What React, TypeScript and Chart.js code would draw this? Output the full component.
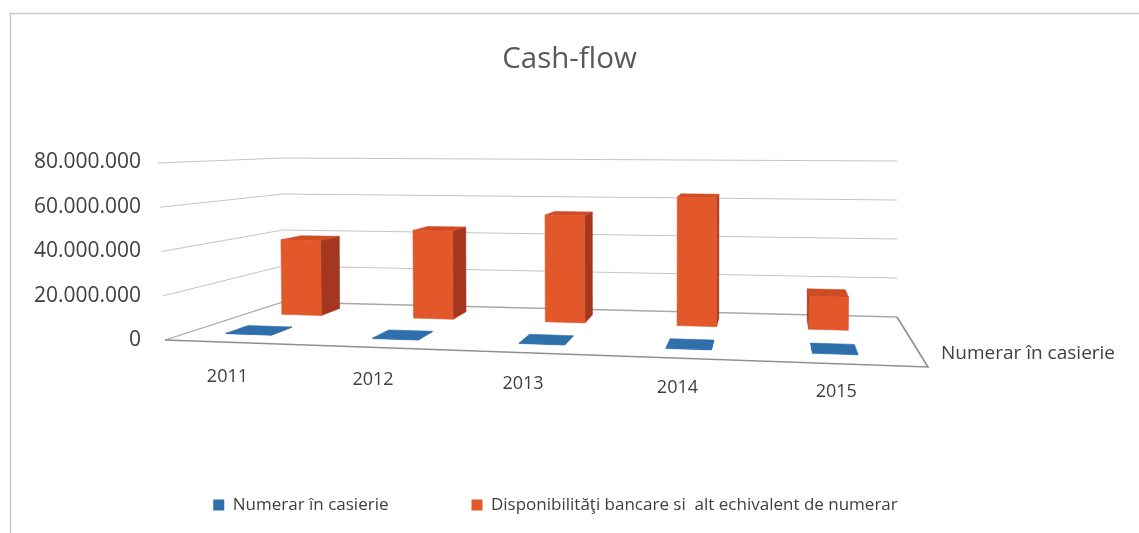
import React, { useEffect, useRef } from 'react';
import { Chart, registerables } from 'chart.js';

Chart.register(...registerables);

// ---------- data ----------
const years = ['2011', '2012', '2013', '2014', '2015'];
const numerarCasierie = [180000, 210000, 240000, 260000, 300000];
const disponibilitati = [38600000, 44600000, 53400000, 63300000, 16000000];
const seriesNames = ['Numerar în casierie', 'Disponibilităţi bancare si  alt echivalent de numerar'];
const yTickValues = [0, 20000000, 40000000, 60000000, 80000000];
const chartTitle = 'Cash-flow';

// ---------- styles / geometry ----------
const FONT = '"Open Sans", "DejaVu Sans", sans-serif';
const TEXT = '#404040';
const GRID = '#c4c4c4';
const FLOOR_EDGE = '#8f8f8f';
const FRONT = { blue: '#2E6FAC', orange: '#E2582A' };
const SIDE = { blue: '#1F4E7C', orange: '#A5361F' };
const TOP = { blue: '#2E6FAC', orange: '#CF4C25' };

// floor corners (front-left, front-right, back-right, back-left) and full-scale heights
const FL = [165, 340], FR = [928, 367], BR = [897, 317], BL = [283, 302];
const HT = { fl: 177, fr: 192, br: 156, bl: 144 };
const DXT = { fl: -7, fr: 5, br: 0, bl: 0 };
const ROWS = [
  { d0: 0.2, d1: 0.4 },   // front row (series 1)
  { d0: 0.7, d1: 0.88 },  // back row (series 2)
];
const U_SHIFT = 0.018;

function proj(u: number, d: number, h: number): [number, number] {
  const a = (1 - u) * (1 - d), b = u * (1 - d), c = u * d, e = (1 - u) * d;
  const x = a * FL[0] + b * FR[0] + c * BR[0] + e * BL[0];
  const y = a * FL[1] + b * FR[1] + c * BR[1] + e * BL[1];
  const hh = a * HT.fl + b * HT.fr + c * HT.br + e * HT.bl;
  const dx = a * DXT.fl + b * DXT.fr + c * DXT.br + e * DXT.bl;
  return [x + dx * h, y - hh * h];
}

function fillQuad(ctx: CanvasRenderingContext2D, pts: [number, number][], color: string) {
  ctx.beginPath();
  ctx.moveTo(pts[0][0], pts[0][1]);
  for (let i = 1; i < pts.length; i++) ctx.lineTo(pts[i][0], pts[i][1]);
  ctx.closePath();
  ctx.fillStyle = color;
  ctx.fill();
  ctx.strokeStyle = color;
  ctx.lineWidth = 0.6;
  ctx.stroke();
}

function fmt(v: number) {
  return String(Math.round(v)).replace(/\B(?=(\d{3})+(?!\d))/g, '.');
}

const perspectivePlugin = {
  id: 'persp3d',
  afterLayout(chart: any) {
    if (chart.titleBlock) {
      chart.titleBlock.left = 0;
      chart.titleBlock.right = chart.width;
    }
  },
  beforeDraw(chart: any) {
    const ctx: CanvasRenderingContext2D = chart.ctx;
    ctx.save();
    ctx.strokeStyle = '#c9c9c9';
    ctx.lineWidth = 1.5;
    ctx.beginPath();
    ctx.moveTo(10.5, chart.height);
    ctx.lineTo(10.5, 13.5);
    ctx.lineTo(chart.width, 13.5);
    ctx.stroke();
    ctx.restore();
  },
  beforeDatasetsDraw(chart: any) {
    const ctx: CanvasRenderingContext2D = chart.ctx;
    const ys = chart.scales.y;
    const xs = chart.scales.x;
    const ca = chart.chartArea;
    const hOf = (px: number) => (ys.bottom - px) / (ys.bottom - ys.top);
    const uOf = (px: number) => (px - ca.left) / ca.width - U_SHIFT;
    ctx.save();

    // gridlines on left wall and back wall
    ys.ticks.forEach((t: any) => {
      const h = hOf(ys.getPixelForValue(t.value));
      const a = proj(0, 0, h), b = proj(0, 1, h), c = proj(1, 1, h);
      ctx.beginPath();
      ctx.moveTo(a[0], a[1]);
      ctx.lineTo(b[0], b[1]);
      ctx.lineTo(c[0], c[1]);
      ctx.strokeStyle = h === 0 ? '#a8a8a8' : GRID;
      ctx.lineWidth = h === 0 ? 1.3 : 1;
      ctx.stroke();
    });

    // floor front and right edges
    const f0 = proj(0, 0, 0), f1 = proj(1, 0, 0), f2 = proj(1, 1, 0);
    ctx.beginPath();
    ctx.moveTo(f0[0], f0[1]);
    ctx.lineTo(f1[0], f1[1]);
    ctx.lineTo(f2[0], f2[1]);
    ctx.strokeStyle = FLOOR_EDGE;
    ctx.lineWidth = 1.6;
    ctx.stroke();

    // bars: back row first
    [1, 0].forEach((di) => {
      const meta = chart.getDatasetMeta(di);
      const key = di === 0 ? 'blue' : 'orange';
      const { d0, d1 } = ROWS[di];
      meta.data.forEach((el: any) => {
        const p = el.getProps(['x', 'y', 'base', 'width'], true);
        const u0 = uOf(p.x - p.width / 2), u1 = uOf(p.x + p.width / 2);
        const hb = hOf(p.base), ht = Math.max(hOf(p.y), hb + 0.002);
        const FLb = proj(u0, d0, hb), FRb = proj(u1, d0, hb), FRt = proj(u1, d0, ht), FLt = proj(u0, d0, ht);
        const BLb = proj(u0, d1, hb), BRb = proj(u1, d1, hb), BRt = proj(u1, d1, ht), BLt = proj(u0, d1, ht);
        if (BRb[0] > FRb[0]) fillQuad(ctx, [FRb, BRb, BRt, FRt], SIDE[key]);
        if (BLb[0] < FLb[0]) fillQuad(ctx, [FLb, BLb, BLt, FLt], SIDE[key]);
        if (BLt[1] < FLt[1]) fillQuad(ctx, [FLt, FRt, BRt, BLt], TOP[key]);
        fillQuad(ctx, [FLb, FRb, FRt, FLt], FRONT[key]);
      });
    });

    // category labels along the front edge
    ctx.font = `18px ${FONT}`;
    ctx.fillStyle = TEXT;
    ctx.textAlign = 'center';
    ctx.textBaseline = 'middle';
    chart.data.labels.forEach((lab: string, i: number) => {
      const u = uOf(xs.getPixelForValue(i));
      const p = proj(u, 0, 0);
      ctx.fillText(lab, p[0] + 4 - 55 * u * (1 - u), p[1] + 35 - 8 * u);
    });

    // depth axis label
    ctx.font = `19px ${FONT}`;
    ctx.textAlign = 'left';
    ctx.fillText(chart.data.datasets[0].label, 941, 354);

    ctx.restore();
    return false;
  },
};

export default function App() {
  const ref = useRef<HTMLCanvasElement>(null);
  useEffect(() => {
    document.body.style.margin = '0';
    const canvas = ref.current!;
    const chart = new Chart(canvas, {
      type: 'bar',
      data: {
        labels: years,
        datasets: [
          {
            label: seriesNames[0],
            data: numerarCasierie,
            backgroundColor: FRONT.blue,
            borderWidth: 0,
            grouped: false,
            barPercentage: 0.31,
            categoryPercentage: 1,
          },
          {
            label: seriesNames[1],
            data: disponibilitati,
            backgroundColor: FRONT.orange,
            borderWidth: 0,
            grouped: false,
            barPercentage: 0.3,
            categoryPercentage: 1,
          },
        ],
      },
      options: {
        responsive: false,
        animation: false,
        layout: { padding: { left: 0, right: 28, top: 0, bottom: 9.5 } },
        plugins: {
          title: {
            display: true,
            text: chartTitle,
            color: '#595959',
            font: { family: FONT, size: 29.5, weight: 'normal' },
            padding: { top: 42, bottom: 85 },
          },
          legend: {
            position: 'bottom',
            labels: {
              color: TEXT,
              font: { family: FONT, size: 17 },
              boxWidth: 11,
              boxHeight: 11,
              padding: 83,
            },
          },
          tooltip: { enabled: false },
        },
        scales: {
          x: {
            display: true,
            ticks: { display: false },
            grid: { display: false },
            border: { display: false },
            afterFit: (s: any) => { s.height = 73.5; },
          },
          y: {
            min: 0,
            max: 80000000,
            afterBuildTicks: (s: any) => { s.ticks = yTickValues.map((v) => ({ value: v })); },
            ticks: {
              color: TEXT,
              font: { family: FONT, size: 21 },
              padding: 19,
              callback: (v: any) => fmt(Number(v)),
            },
            grid: { display: false, drawTicks: false },
            border: { display: false },
            afterFit: (s: any) => { s.width = 160; },
          },
        },
      },
      plugins: [perspectivePlugin],
    } as any);
    return () => chart.destroy();
  }, []);
  return (
    <canvas
      ref={ref}
      width={1139}
      height={533}
      style={{ display: 'block', width: '1139px', height: '533px' }}
    />
  );
}
